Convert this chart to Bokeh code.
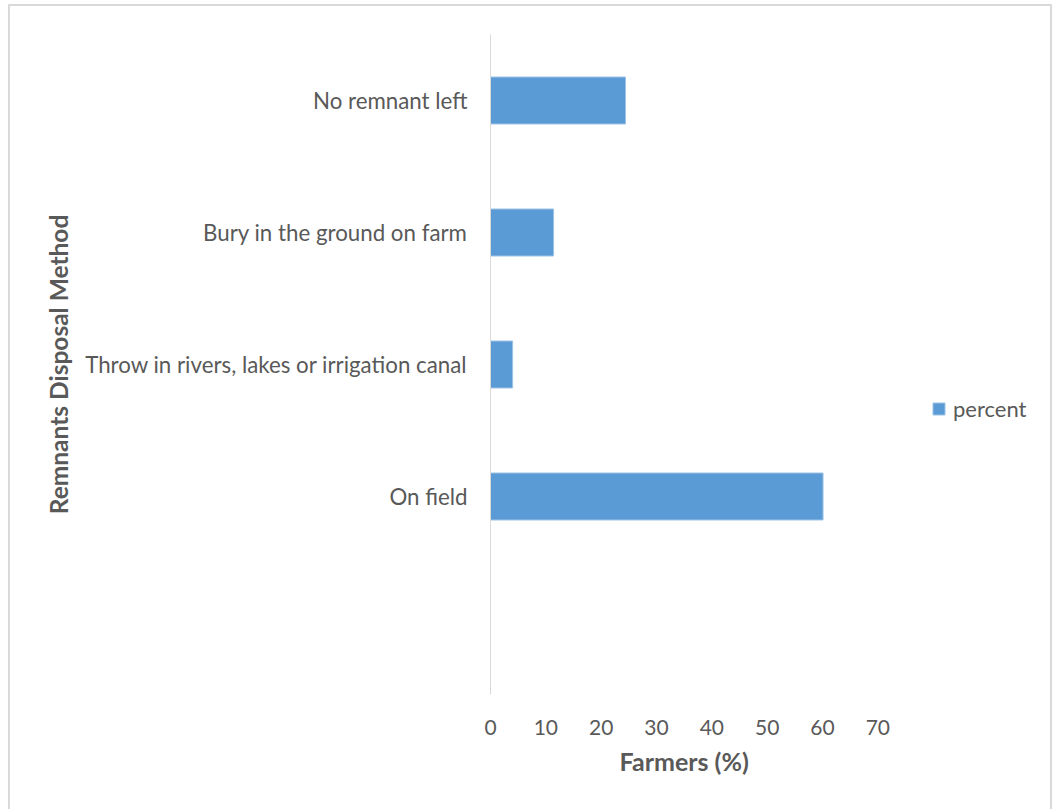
from bokeh.plotting import figure
from bokeh.models import FactorRange, Range1d, FixedTicker, Legend, LegendItem, InlineStyleSheet, Title
from bokeh.embed import file_html
from bokeh.resources import INLINE

# Disposal methods, listed bottom to top; the blank slot keeps the empty band at the bottom
methods = [" ", "On field", "Throw in rivers, lakes or irrigation canal",
           "Bury in the ground on farm", "No remnant left"]
shown_methods = ["On field", "Throw in rivers, lakes or irrigation canal",
                 "Bury in the ground on farm", "No remnant left"]
percent = [60.1, 4.0, 11.4, 24.4]
x_ticks = [0, 10, 20, 30, 40, 50, 60, 70]

FONT = "Lato"
GREY = "#595959"
BAR = "#5b9bd5"

# the value axis stops at 70; the frame runs on to the right so the legend sits inside it
X_END = 99.4

p = figure(width=1053, height=809, output_backend="svg", toolbar_location=None,
           y_range=FactorRange(factors=methods, range_padding=0),
           x_range=Range1d(0, X_END),
           min_border_left=490, min_border_right=13,
           min_border_top=34, min_border_bottom=115)

bars = p.hbar(y=shown_methods, right=percent, left=0, height=0.356,
              fill_color=BAR, line_color="#9dc3e6", line_width=1)

p.outline_line_color = None
p.xgrid.grid_line_color = None
p.ygrid.grid_line_color = None
p.background_fill_color = "white"
p.border_fill_color = "white"

xa = p.xaxis[0]
xa.ticker = FixedTicker(ticks=x_ticks)
xa.axis_line_color = None
xa.major_tick_line_color = None
xa.minor_tick_line_color = None
xa.major_label_text_font = FONT
xa.major_label_text_font_size = "21px"
xa.major_label_text_color = GREY
xa.major_label_standoff = 19

p.add_layout(Title(text="Farmers (%)", align="left", offset=129,
                   text_font=FONT, text_font_size="25px", text_font_style="bold",
                   text_color=GREY, standoff=13), "below")

ya = p.yaxis[0]
ya.axis_line_color = "#d9d9d9"
ya.axis_line_width = 1
ya.major_tick_line_color = None
ya.minor_tick_line_color = None
ya.major_label_text_font = FONT
ya.major_label_text_font_size = "22.3px"
ya.major_label_text_color = GREY
ya.major_label_standoff = 17
ya.axis_label = "Remnants Disposal Method"
ya.axis_label_text_font = FONT
ya.axis_label_text_font_size = "24.5px"
ya.axis_label_text_font_style = "bold"
ya.axis_label_text_color = GREY
ya.axis_label_standoff = 9

legend = Legend(items=[LegendItem(label="percent", renderers=[bars])],
                location=(441, 272), border_line_color=None,
                background_fill_alpha=0,
                label_text_font=FONT, label_text_font_size="22px",
                label_text_color=GREY, glyph_width=15, glyph_height=15,
                label_standoff=7, padding=0, margin=0)
p.add_layout(legend, "center")

# thin frame around the chart area (open at the bottom)
p.stylesheets = [InlineStyleSheet(css="""
:host { position: relative; }
:host::after {
  content: ""; position: absolute; left: 8px; top: 4px; right: 1px; bottom: -20px;
  border: 2px solid #d9d9d9; border-bottom: none; pointer-events: none;
}
""")]

open("out.html", "w").write(file_html(p, INLINE))
